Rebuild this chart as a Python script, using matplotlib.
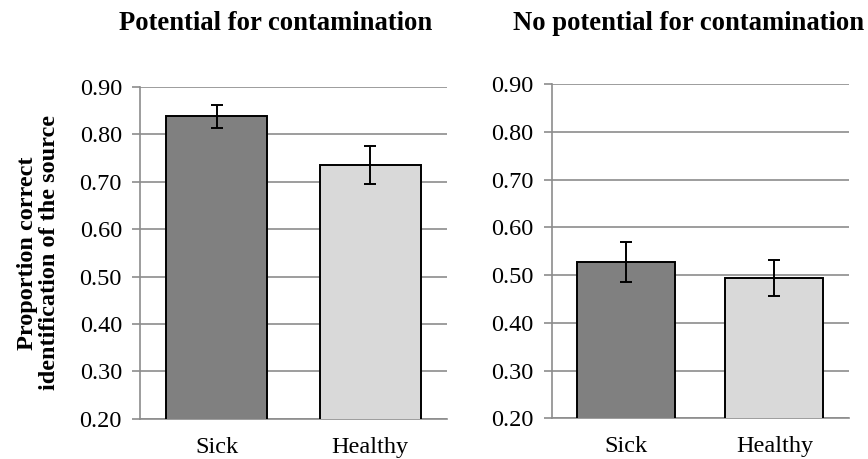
import numpy as np
import matplotlib
matplotlib.use("Agg")
import matplotlib.pyplot as plt

plt.rcParams['font.family'] = ['Liberation Serif', 'DejaVu Serif']

groups = ["Sick", "Healthy"]
titles = ["Potential for contamination", "No potential for contamination"]
means = [[0.838, 0.735], [0.527, 0.494]]
errors = [[0.025, 0.040], [0.042, 0.037]]
yticks = [0.20, 0.30, 0.40, 0.50, 0.60, 0.70, 0.80, 0.90]

bar_colors = ["#808080", "#d9d9d9"]
grid_col = "#8c8c8c"

fig = plt.figure(figsize=(8.68, 4.59), dpi=100)
axes = [fig.add_axes([0.1613, 0.0878, 0.3537, 0.7227]),
        fig.add_axes([0.6356, 0.0887, 0.3422, 0.7283])]
title_x = [276 / 868, 689 / 868]

for i, ax in enumerate(axes):
    x = np.arange(len(groups))
    ax.bar(x, means[i], width=0.66, color=bar_colors, edgecolor="black",
           linewidth=1.4, zorder=3)
    ax.errorbar(x, means[i], yerr=errors[i], fmt="none", ecolor="black",
                elinewidth=1.4, capsize=4, capthick=1.4, zorder=4)
    ax.set_xlim(-0.5, 1.5)
    ax.set_ylim(0.20, 0.90)
    ax.set_yticks(yticks)
    ax.set_yticklabels(["%.2f" % t for t in yticks], fontsize=17.5)
    ax.set_xticks(x)
    ax.set_xticklabels(groups, fontsize=17.5)
    ax.tick_params(axis="x", length=0, pad=13)
    ax.tick_params(axis="y", length=6, color=grid_col, width=1.2, pad=7)
    ax.grid(axis="y", color=grid_col, linewidth=1.2, zorder=0)
    for s in ["top", "right"]:
        ax.spines[s].set_visible(False)
    for s in ["left", "bottom"]:
        ax.spines[s].set_color(grid_col)
        ax.spines[s].set_linewidth(1.2)
    fig.text(title_x[i], 1 - 23 / 459, titles[i], ha="center", va="center",
             fontsize=19.2, fontweight="bold")

axes[0].set_ylabel("Proportion correct\nidentification of the source",
                   fontsize=17.5, fontweight="bold", labelpad=14,
                   linespacing=1.05)

fig.savefig("out.png", dpi=100)
